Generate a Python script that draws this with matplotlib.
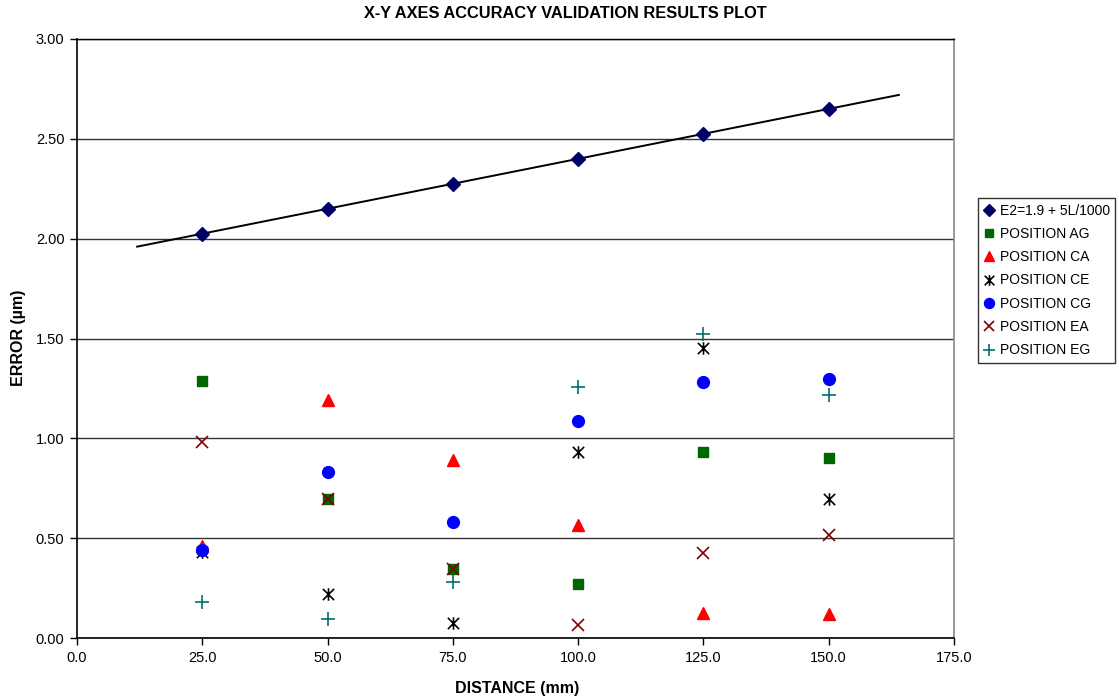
import numpy as np
import matplotlib
matplotlib.use("Agg")
import matplotlib.pyplot as plt
from matplotlib.path import Path

plt.rcParams['font.family'] = ['Liberation Sans', 'DejaVu Sans']

# Distances along each axis (mm)
distance = [25, 50, 75, 100, 125, 150]

# Specification line E2 = 1.9 + 5L/1000
e2_values = [2.025, 2.15, 2.275, 2.40, 2.525, 2.65]
trend_range = [12, 164]

# Measured errors (um) at each position
pos_ag = [1.285, 0.695, 0.345, 0.27, 0.93, 0.90]
pos_ca = [0.46, 1.19, 0.893, 0.567, 0.125, 0.12]
pos_ce = [0.43, 0.22, 0.077, 0.933, 1.45, 0.695]
pos_cg = [0.44, 0.83, 0.58, 1.087, 1.283, 1.297]
pos_ea = [0.983, 0.695, 0.345, 0.067, 0.425, 0.517]
pos_eg = [0.18, 0.093, 0.28, 1.257, 1.525, 1.217]

x_ticks = [0, 25, 50, 75, 100, 125, 150, 175]
y_ticks = [0.0, 0.5, 1.0, 1.5, 2.0, 2.5, 3.0]

# Asterisk marker: vertical stroke plus a diagonal cross
star_path = Path(
    [(0, -1), (0, 1), (-0.9, -0.9), (0.9, 0.9), (-0.9, 0.9), (0.9, -0.9)],
    [Path.MOVETO, Path.LINETO, Path.MOVETO, Path.LINETO, Path.MOVETO, Path.LINETO],
)

fig = plt.figure(figsize=(11.19, 7.0), dpi=100)
ax = fig.add_axes([77 / 1119, 1 - 638 / 700, (954 - 77) / 1119, (638 - 39) / 700])

# Trend line for E2
tx = np.array(trend_range, dtype=float)
ax.plot(tx, 1.9 + 5 * tx / 1000, color='black', lw=1.4, zorder=3)

ax.plot(distance, e2_values, ls='none', marker='D', ms=7, color='#000066',
        mec='#000066', label='E2=1.9 + 5L/1000', zorder=4)
ax.plot(distance, pos_ag, ls='none', marker='s', ms=7.5, color='#006600',
        mec='#006600', label='POSITION AG', zorder=5)
ax.plot(distance, pos_ca, ls='none', marker='^', ms=9, color='#FF0000',
        mec='#FF0000', label='POSITION CA', zorder=6)
ax.plot(distance, pos_ce, ls='none', marker=star_path, ms=9, color='black',
        mew=1.2, label='POSITION CE', zorder=7)
ax.plot(distance, pos_cg, ls='none', marker='o', ms=8.5, color='#0000FF',
        mec='#0000FF', label='POSITION CG', zorder=8)
ax.plot(distance, pos_ea, ls='none', marker='x', ms=8, color='#800000',
        mew=1.2, label='POSITION EA', zorder=9)
ax.plot(distance, pos_eg, ls='none', marker='+', ms=10, color='#007070',
        mew=1.2, label='POSITION EG', zorder=10)

ax.set_xlim(0, 175)
ax.set_ylim(0, 3.0)
ax.set_xticks(x_ticks)
ax.set_yticks(y_ticks)
ax.set_xticklabels([f"{v:.1f}" for v in x_ticks])
ax.set_yticklabels([f"{v:.2f}" for v in y_ticks])
ax.tick_params(axis='both', labelsize=10.5, length=5, width=1, direction='out',
               colors='black', pad=4)

ax.yaxis.grid(True, color='#333333', lw=1.0)
ax.set_axisbelow(True)
for side in ['left', 'bottom']:
    ax.spines[side].set_color('black')
    ax.spines[side].set_linewidth(1.2)
ax.spines['top'].set_color('black')
ax.spines['top'].set_linewidth(1.0)
ax.spines['right'].set_color('#888888')
ax.spines['right'].set_linewidth(1.2)

fig.text(517 / 1119, 1 - 688 / 700, 'DISTANCE (mm)', ha='center', va='center',
         fontsize=11.5, fontweight='bold')
fig.text(18.5 / 1119, 1 - 338 / 700, 'ERROR (µm)', ha='center', va='center',
         rotation=90, fontsize=11.5, fontweight='bold')

fig.text(565 / 1119, 1 - 13 / 700, 'X-Y AXES ACCURACY VALIDATION RESULTS PLOT',
         ha='center', va='center', fontsize=11.8, fontweight='bold')

leg = ax.legend(loc='upper left', bbox_to_anchor=(978 / 1119, 1 - 198 / 700),
                bbox_transform=fig.transFigure, fontsize=10, frameon=True,
                fancybox=False, edgecolor='#333333', framealpha=1,
                handlelength=0.8, handletextpad=0.35, labelspacing=0.67,
                borderpad=0.4, borderaxespad=0, markerscale=0.85)
leg.get_frame().set_linewidth(1.0)

fig.savefig('out.png', dpi=100)
